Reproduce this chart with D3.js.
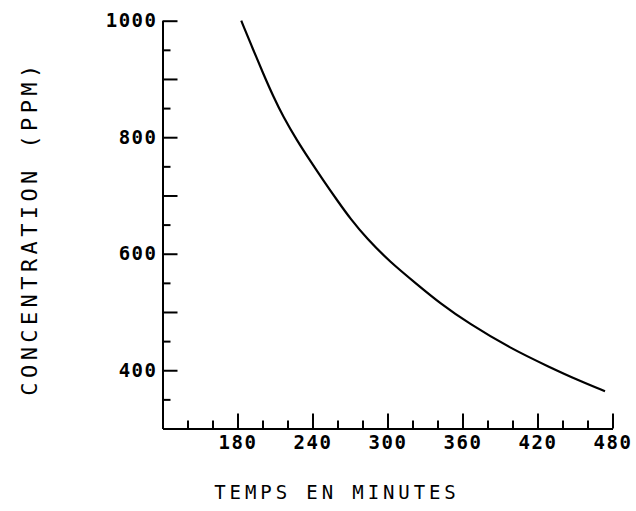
<!DOCTYPE html>
<html>
<head>
<meta charset="utf-8">
<script src="https://cdn.jsdelivr.net/npm/d3@7"></script>
<style>
  body { margin: 0; background: #fff; }
  svg { display: block; }
</style>
</head>
<body>
<svg width="636" height="511"></svg>
<script>
// Concentration curve (minutes, ppm)
const minutes = [183, 192.6, 200.6, 208.6, 216.6, 227.4, 238, 248.6, 260.6, 270, 283.4, 302, 323.4, 342, 364.6, 398, 430, 451.4, 474];
const ppm = [1000, 950, 909, 870, 835, 795, 760, 726, 689, 661, 626, 586, 548, 515, 481, 438, 405, 384, 364];

// Axis ticks
const xMajor = [180, 240, 300, 360, 420, 480];
const xMinor = [140, 160, 200, 220, 260, 280, 320, 340, 380, 400, 440, 460];
const yMajor = [400, 500, 600, 700, 800, 900, 1000];
const yMinor = [350, 450, 550, 650, 750, 850, 950];
const yLabelled = [400, 600, 800, 1000];

const svg = d3.select("svg");

const x = d3.scaleLinear().domain([120, 480]).range([162.5, 612.5]);
const y = d3.scaleLinear().domain([300, 1000]).range([428.5, 20.7]);

const tickFont = "'DejaVu Sans Mono', monospace";

// x axis: minor and major ticks, both pointing up into the plot
svg.append("g")
  .attr("transform", `translate(0,${y(300)})`)
  .call(d3.axisBottom(x).tickValues(xMinor).tickSize(-8).tickSizeOuter(0).tickFormat(""));
svg.append("g")
  .attr("transform", `translate(0,${y(300)})`)
  .call(d3.axisBottom(x).tickValues(xMajor).tickSize(-15).tickSizeOuter(0).tickPadding(7));

// y axis: ticks pointing right
svg.append("g")
  .attr("transform", `translate(${x(120)},0)`)
  .call(d3.axisLeft(y).tickValues(yMinor).tickSize(-8).tickSizeOuter(0).tickFormat(""));
svg.append("g")
  .attr("transform", `translate(${x(120)},0)`)
  .call(d3.axisLeft(y).tickValues(yMajor).tickSize(-15).tickSizeOuter(0).tickPadding(5)
    .tickFormat(d => yLabelled.includes(d) ? d : ""));

svg.selectAll(".domain, .tick line")
  .attr("stroke", "#000")
  .attr("stroke-width", 2);

svg.selectAll(".tick text")
  .attr("fill", "#000")
  .style("font-family", tickFont)
  .style("font-size", "19px")
  .style("font-weight", "bold")
  .style("letter-spacing", "1.5px");

// curve (basis smooths out small reading errors)
const line = d3.line()
  .x((d, i) => x(minutes[i]))
  .y(d => y(d))
  .curve(d3.curveBasis);

svg.append("path")
  .datum(ppm)
  .attr("d", line)
  .attr("fill", "none")
  .attr("stroke", "#000")
  .attr("stroke-width", 2.2);

// axis titles
svg.append("text")
  .attr("x", 337)
  .attr("y", 499)
  .attr("text-anchor", "middle")
  .style("font-family", tickFont)
  .style("font-size", "19px")
  .style("letter-spacing", "3.9px")
  .text("TEMPS EN MINUTES");

svg.append("text")
  .attr("transform", "translate(37,228) rotate(-90)")
  .attr("text-anchor", "middle")
  .style("font-family", tickFont)
  .style("font-size", "22px")
  .style("letter-spacing", "4.4px")
  .text("CONCENTRATION (PPM)");
</script>
</body>
</html>
